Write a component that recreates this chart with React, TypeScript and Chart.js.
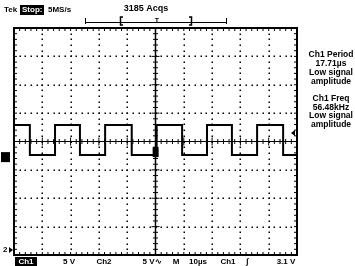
import React, { useEffect, useRef } from "react";
import { Chart, registerables } from "chart.js";

Chart.register(...registerables);

// Waveform: edge times (µs) and levels (V) of the Ch1 square wave
const edgeTimes = [0, 5.6, 14.5, 23.3, 32.2, 41.6, 50.4, 59.4, 68.2, 77.0, 85.9, 95.1, 100];
const edgeLevels = [2.9, -2.4, 2.9, -2.4, 2.9, -2.4, 2.9, -2.4, 2.9, -2.4, 2.9, -2.4, -2.4];

const timeRange = [0, 100]; // 10 µs/div, 10 divisions
const voltRange = [-20, 20]; // 5 V/div, 8 divisions
const triggerTime = 50.4;

const headerLabels = ["Tek", "Stop:", "5MS/s", "3185 Acqs"];
const measureLines = [
  "Ch1 Period", "17.71µs", "Low signal", "amplitude",
  "Ch1 Freq", "56.48kHz", "Low signal", "amplitude",
];
const footerLabels = ["Ch1", "5 V", "Ch2", "5 V∿", "M", "10µs", "Ch1", "∫", "3.1 V"];

const FONT = "'Liberation Sans', Arial, sans-serif";

const scopePlugin = {
  id: "scope",
  beforeDatasetsDraw(chart: any) {
    const ctx = chart.ctx;
    const xs = chart.scales.x;
    const ys = chart.scales.y;
    const L = xs.getPixelForValue(timeRange[0]);
    const R = xs.getPixelForValue(timeRange[1]);
    const T = ys.getPixelForValue(voltRange[1]);
    const B = ys.getPixelForValue(voltRange[0]);
    const cx = xs.getPixelForValue(50);
    const cy = ys.getPixelForValue(0);
    ctx.save();
    ctx.fillStyle = "#000";
    // dotted graticule
    for (let d = 1; d < 10; d++) {
      if (d === 5) continue;
      const x = xs.getPixelForValue(d * 10);
      for (let s = 1; s < 40; s++) {
        const y = ys.getPixelForValue(voltRange[1] - s);
        ctx.fillRect(Math.round(x) - 0.5, Math.round(y) - 0.5, 1.5, 1.5);
      }
    }
    for (let d = 1; d < 8; d++) {
      if (d === 4) continue;
      const y = ys.getPixelForValue(voltRange[1] - d * 5);
      for (let s = 1; s < 50; s++) {
        const x = xs.getPixelForValue(s * 2);
        ctx.fillRect(Math.round(x) - 0.5, Math.round(y) - 0.5, 1.5, 1.5);
      }
    }
    // center axes
    ctx.strokeStyle = "#000";
    ctx.lineWidth = 1;
    ctx.beginPath();
    ctx.moveTo(L, cy); ctx.lineTo(R, cy);
    ctx.stroke();
    ctx.lineWidth = 1.5;
    ctx.beginPath();
    ctx.moveTo(cx, T); ctx.lineTo(cx, B);
    ctx.stroke();
    ctx.lineWidth = 1;
    ctx.beginPath();
    for (let s = 1; s < 50; s++) {
      const x = xs.getPixelForValue(s * 2);
      const len = s % 5 === 0 ? 4 : 2.5;
      ctx.moveTo(x, cy - len); ctx.lineTo(x, cy + len);
      ctx.moveTo(x, T); ctx.lineTo(x, T + 3);
      ctx.moveTo(x, B); ctx.lineTo(x, B - 3);
    }
    for (let s = 1; s < 40; s++) {
      const y = ys.getPixelForValue(voltRange[1] - s);
      const len = s % 5 === 0 ? 4 : 2.5;
      ctx.moveTo(cx - len, y); ctx.lineTo(cx + len, y);
      ctx.moveTo(L, y); ctx.lineTo(L + 3, y);
      ctx.moveTo(R, y); ctx.lineTo(R - 3, y);
    }
    ctx.stroke();
    // frame
    ctx.lineWidth = 2;
    ctx.strokeRect(L, T, R - L, B - T);
    ctx.restore();
  },
  afterDatasetsDraw(chart: any) {
    const ctx = chart.ctx;
    const xs = chart.scales.x;
    const ys = chart.scales.y;
    const R = xs.getPixelForValue(timeRange[1]);
    const B = ys.getPixelForValue(voltRange[0]);
    ctx.save();
    ctx.fillStyle = "#000";
    ctx.strokeStyle = "#000";
    // trigger point marker
    const tx = xs.getPixelForValue(triggerTime);
    const ty = ys.getPixelForValue(edgeLevels[5]);
    ctx.fillRect(tx - 4, ty - 8, 6, 10);
    // Ch1 ground marker
    ctx.fillRect(1, ty - 3, 9, 10);
    // trigger level marker on right
    const tly = ys.getPixelForValue(1.5);
    ctx.beginPath();
    ctx.moveTo(R - 6, tly); ctx.lineTo(R - 2, tly - 3); ctx.lineTo(R - 2, tly + 3);
    ctx.closePath(); ctx.fill();

    ctx.textBaseline = "middle";
    // header
    ctx.font = `bold 8px ${FONT}`;
    ctx.textAlign = "left";
    ctx.fillText(headerLabels[0], 4, 10);
    ctx.fillRect(20, 5, 24, 10);
    ctx.fillStyle = "#fff";
    ctx.fillText(headerLabels[1], 22, 10);
    ctx.fillStyle = "#000";
    ctx.fillText(headerLabels[2], 48, 10);
    ctx.font = `bold 9px ${FONT}`;
    ctx.textAlign = "center";
    ctx.fillText(headerLabels[3], 146, 9);
    // record bracket
    ctx.lineWidth = 1;
    ctx.beginPath();
    ctx.moveTo(85, 22.5); ctx.lineTo(227, 22.5);
    ctx.moveTo(85.5, 18); ctx.lineTo(85.5, 24);
    ctx.moveTo(226.5, 18); ctx.lineTo(226.5, 24);
    ctx.stroke();
    ctx.lineWidth = 1.5;
    ctx.beginPath();
    ctx.moveTo(123, 17); ctx.lineTo(120.5, 17); ctx.lineTo(120.5, 25); ctx.lineTo(123, 25);
    ctx.moveTo(189, 17); ctx.lineTo(191.5, 17); ctx.lineTo(191.5, 25); ctx.lineTo(189, 25);
    ctx.stroke();
    ctx.font = `bold 7px ${FONT}`;
    ctx.fillText("T", 157, 21);

    // measurements
    ctx.font = `bold 8.5px ${FONT}`;
    const ys1 = [55, 63.5, 72.5, 81.5, 99, 107.5, 116, 125];
    measureLines.forEach((t, i) => ctx.fillText(t, 331, ys1[i]));

    // bottom-left Ch2 marker
    ctx.font = `bold 8px ${FONT}`;
    ctx.textAlign = "left";
    ctx.fillText("2", 3, B - 5);
    ctx.beginPath();
    ctx.moveTo(9, B - 8); ctx.lineTo(13, B - 5); ctx.lineTo(9, B - 2);
    ctx.closePath(); ctx.fill();

    // footer
    const fy = 261.5;
    ctx.fillRect(15, 257, 22, 9);
    ctx.textAlign = "center";
    ctx.fillStyle = "#fff";
    ctx.fillText(footerLabels[0], 26, fy);
    ctx.fillStyle = "#000";
    const fx = [0, 69, 104, 152, 176, 198, 228, 247, 286];
    for (let i = 1; i < footerLabels.length; i++) ctx.fillText(footerLabels[i], fx[i], fy);
    ctx.restore();
  },
};

export default function App() {
  const ref = useRef<HTMLCanvasElement>(null);
  useEffect(() => {
    document.body.style.margin = "0";
    const points = edgeTimes.map((t, i) => ({ x: t, y: edgeLevels[i] }));
    const chart = new Chart(ref.current!, {
      type: "line",
      data: {
        datasets: [
          {
            data: points,
            stepped: "before",
            borderColor: "#000",
            borderWidth: 2,
            pointRadius: 0,
            fill: false,
          },
        ],
      },
      options: {
        animation: false,
        responsive: false,
        layout: { padding: { left: 14, top: 28, right: 58, bottom: 11 } },
        plugins: { legend: { display: false }, tooltip: { enabled: false } },
        scales: {
          x: { type: "linear", min: timeRange[0], max: timeRange[1], display: false },
          y: { type: "linear", min: voltRange[0], max: voltRange[1], display: false },
        },
      },
      plugins: [scopePlugin],
    });
    return () => chart.destroy();
  }, []);
  return (
    <div style={{ width: 355, height: 266, background: "#fff" }}>
      <canvas ref={ref} width={355} height={266} />
    </div>
  );
}
